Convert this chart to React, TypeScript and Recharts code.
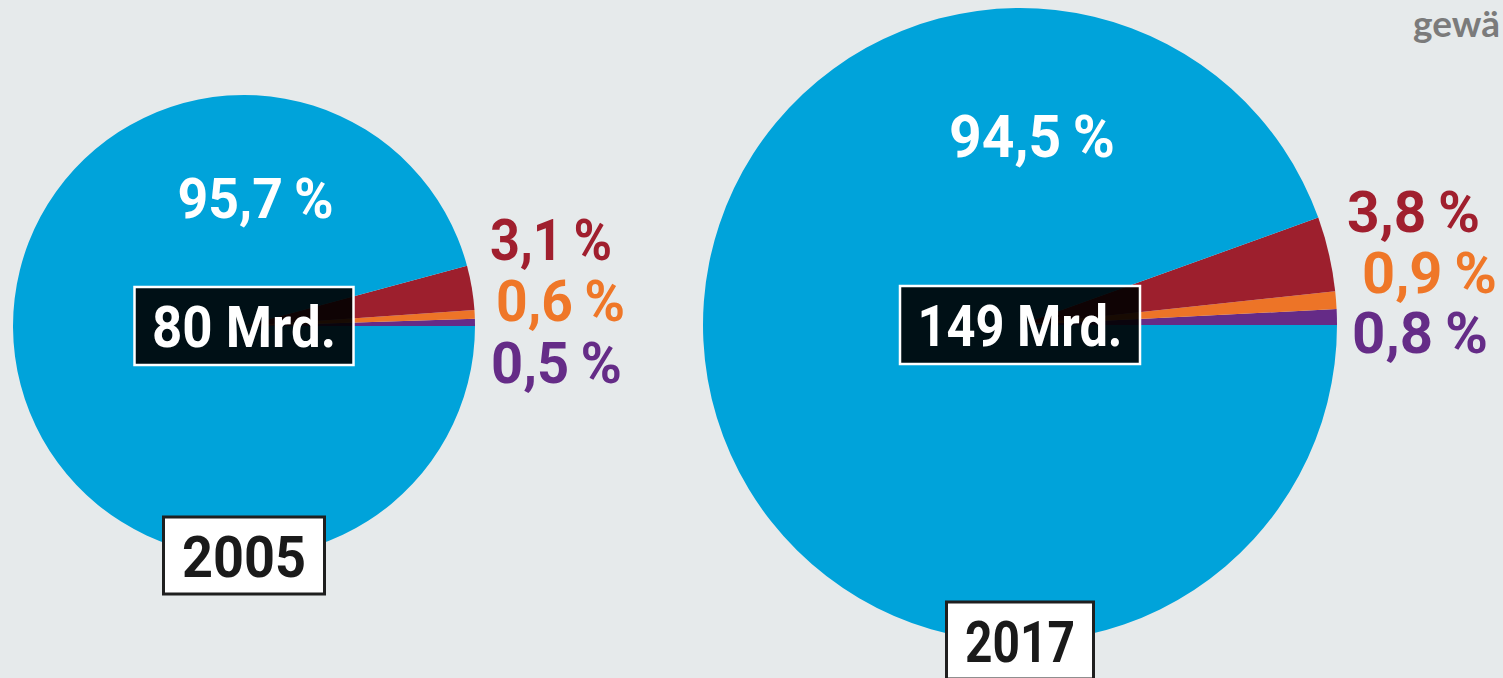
import React from 'react';
import { PieChart, Pie, Cell } from 'recharts';

// ---- data ----
const CATEGORIES = ['Anteil D', 'Anteil C', 'Anteil B', 'Anteil A'];
const SHARES_2005 = [0.5, 0.6, 3.1, 95.7];
const SHARES_2017 = [0.8, 0.9, 3.8, 94.5];
const SHARE_LABELS_2005 = ['0,5\u2009%', '0,6\u2009%', '3,1\u2009%', '95,7\u2009%'];
const SHARE_LABELS_2017 = ['0,8\u2009%', '0,9\u2009%', '3,8\u2009%', '94,5\u2009%'];
const YEARS = ['2005', '2017'];
const TOTALS = ['80 Mrd.', '149 Mrd.'];
const CORNER_TEXT = 'gewä';

// ---- styles ----
const SLICE_COLORS = ['#652b87', '#ed7427', '#9d1f2d', '#00a3da'];
const LABEL_COLORS = ['#652c87', '#ef7728', '#a01f2e', '#ffffff'];
const BG = '#e6eaeb';
const FONT = "Roboto, 'Liberation Sans', sans-serif";

const LAYOUT = [
  {
    cx: 244, cy: 326, r: 231,
    smallDx: [16, 21, 15], smallDy: [57, -5, -66], smallW: [131, 129, 122],
    pctDx: 11.5, pctDy: -108, pctW: 156, pctSize: 56,
    totalW: 184, yearW: 124,
  },
  {
    cx: 1020, cy: 325, r: 317,
    smallDx: [15, 25, 10], smallDy: [28, -32, -93], smallW: [136, 135, 133],
    pctDx: 12, pctDy: -168, pctW: 166, pctSize: 59,
    totalW: 205, yearW: 110,
  },
];

const build = (shares: number[]) => CATEGORIES.map((name, i) => ({ name, value: shares[i] }));
const DATA = [build(SHARES_2005), build(SHARES_2017)];
const LABELS = [SHARE_LABELS_2005, SHARE_LABELS_2017];

const makeLabel = (p: number) => (props: any) => {
  const { cx, cy, outerRadius, index } = props;
  const L = LAYOUT[p];
  const texts = LABELS[p];
  if (index < 3) {
    return (
      <text
        key={`l-${p}-${index}`}
        x={cx + outerRadius + L.smallDx[index]}
        y={cy + L.smallDy[index]}
        fill={LABEL_COLORS[index]}
        fontFamily={FONT}
        fontWeight={700}
        fontSize={57}
        textLength={L.smallW[index]}
        lengthAdjust="spacingAndGlyphs"
        textAnchor="start"
      >
        {texts[index]}
      </text>
    );
  }
  const boxW = L.totalW + 35;
  const yearBoxW = L.yearW + 37;
  const yearTop = cy + outerRadius - 40;
  return (
    <g key={`c-${p}`}>
      <text
        x={cx + L.pctDx}
        y={cy + L.pctDy}
        fill="#ffffff"
        fontFamily={FONT}
        fontWeight={700}
        fontSize={L.pctSize}
        textLength={L.pctW}
        lengthAdjust="spacingAndGlyphs"
        textAnchor="middle"
      >
        {texts[index]}
      </text>
      <rect
        x={cx - boxW / 2}
        y={cy - 39}
        width={boxW}
        height={78}
        fill="rgba(0,0,0,0.9)"
        stroke="#ffffff"
        strokeWidth={2.5}
      />
      <text
        x={cx}
        y={cy + 21}
        fill="#ffffff"
        fontFamily={FONT}
        fontWeight={700}
        fontSize={58}
        textLength={L.totalW}
        lengthAdjust="spacingAndGlyphs"
        textAnchor="middle"
      >
        {TOTALS[p]}
      </text>
      <rect
        x={cx - yearBoxW / 2}
        y={yearTop}
        width={yearBoxW}
        height={77}
        fill="#ffffff"
        stroke="#1f1f1f"
        strokeWidth={3}
      />
      <text
        x={cx}
        y={yearTop + 60}
        fill="#1a1a1a"
        fontFamily={FONT}
        fontWeight={700}
        fontSize={57}
        textLength={L.yearW}
        lengthAdjust="spacingAndGlyphs"
        textAnchor="middle"
      >
        {YEARS[p]}
      </text>
    </g>
  );
};

export default function App() {
  return (
    <div
      style={{
        position: 'absolute',
        left: 0,
        top: 0,
        width: 1503,
        height: 678,
        background: BG,
        overflow: 'hidden',
      }}
    >
      <PieChart width={1503} height={678} margin={{ top: 0, right: 0, bottom: 0, left: 0 }}>
        {DATA.map((data, p) => (
          <Pie
            key={YEARS[p]}
            data={data}
            dataKey="value"
            nameKey="name"
            cx={LAYOUT[p].cx}
            cy={LAYOUT[p].cy}
            innerRadius={0}
            outerRadius={LAYOUT[p].r}
            startAngle={0}
            endAngle={360}
            stroke="none"
            labelLine={false}
            label={makeLabel(p)}
            isAnimationActive={false}
          >
            {data.map((d, i) => (
              <Cell key={d.name} fill={SLICE_COLORS[i]} stroke="none" />
            ))}
          </Pie>
        ))}
      </PieChart>
      <div
        style={{
          position: 'absolute',
          left: 1413,
          top: 0,
          fontFamily: 'Lato, sans-serif',
          fontWeight: 700,
          fontSize: 37,
          color: '#7b7b7b',
          whiteSpace: 'nowrap',
        }}
      >
        {CORNER_TEXT}
      </div>
    </div>
  );
}
